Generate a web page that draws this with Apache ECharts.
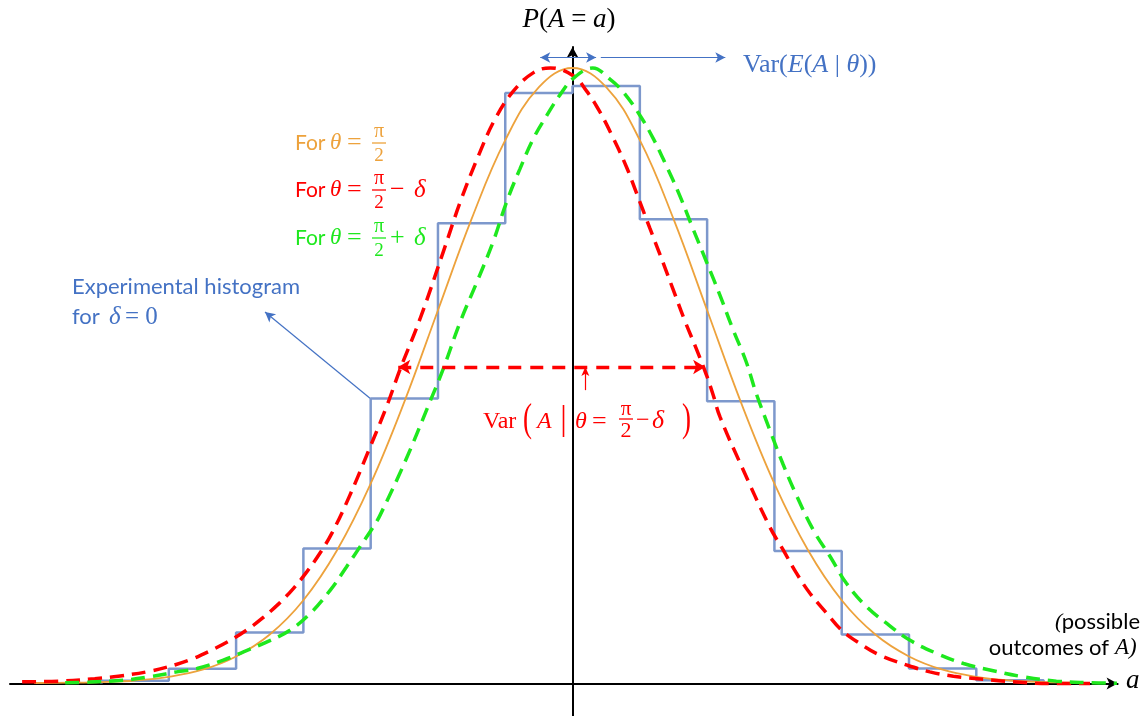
<!DOCTYPE html>
<html>
<head>
<meta charset="utf-8">
<script src="https://cdn.jsdelivr.net/npm/echarts@6/dist/echarts.min.js"></script>
<style>
  html, body { margin: 0; padding: 0; background: #fff; }
  #chart { width: 1142px; height: 716px; }
</style>
</head>
<body>
<div id="chart"></div>
<script>
// x: outcome a in bin units, y: probability in %
var binEdges = [-7, -6, -5, -4, -3, -2, -1, 0, 1, 2, 3, 4, 5, 6, 7];
var binHeights = [0.09, 0.48, 1.66, 4.38, 9.24, 14.92, 19.14, 19.37, 15.05, 9.15, 4.30, 1.59, 0.49, 0.11];

// theta = pi/2
var orangeX = [-8, -7.5, -7, -6.5, -6, -5.5, -5, -4.5, -4, -3.5, -3, -2.5, -2, -1.5, -1, -0.5,
  0, 0.5, 1, 1.5, 2, 2.5, 3, 3.5, 4, 4.5, 5, 5.5, 6, 6.5, 7, 7.5];
var orangeY = [0.02, 0.03, 0.05, 0.10, 0.22, 0.45, 0.88, 1.59, 2.70, 4.32, 6.48, 9.13, 12.10, 15.06, 17.61, 19.33,
  19.95, 19.33, 17.61, 15.06, 12.10, 9.13, 6.48, 4.32, 2.70, 1.59, 0.88, 0.45, 0.22, 0.10, 0.05, 0.03];

// theta = pi/2 - delta
var redX = [-8.18, -7.62, -7.10, -6.75, -6.26, -5.89, -5.65, -5.37, -5.12, -4.84, -4.61, -4.36, -4.15, -3.95,
  -3.75, -3.57, -3.31, -3.04, -2.76, -2.56, -2.27, -1.92, -1.67, -1.40, -1.15, -0.88, -0.58, -0.33,
  0.01, 0.21, 0.40, 0.60, 0.80, 0.95, 1.15, 1.30, 1.49, 1.67, 1.84, 1.99, 2.09, 2.19, 2.51, 2.93,
  3.13, 3.33, 3.53, 3.78, 4.00, 4.27, 4.57, 4.97, 5.31, 5.66, 6.10, 6.55, 7.14, 7.69];
var redY = [0.06, 0.08, 0.16, 0.24, 0.41, 0.62, 0.80, 1.08, 1.36, 1.74, 2.12, 2.60, 3.08, 3.62,
  4.24, 4.90, 6.10, 7.50, 9.00, 10.20, 11.80, 14.00, 15.60, 17.10, 18.30, 19.20, 19.80, 19.95,
  19.70, 19.20, 18.55, 17.70, 16.75, 15.90, 14.75, 13.90, 12.80, 11.75, 10.85, 10.00, 9.35, 8.65, 7.05, 5.08,
  4.33, 3.57, 2.92, 2.27, 1.73, 1.30, 0.92, 0.60, 0.38, 0.24, 0.14, 0.06, 0.00, 0.00];

// theta = pi/2 + delta
var greenX = [-7.54, -7.17, -6.68, -6.28, -5.88, -5.58, -5.19, -4.89, -4.54, -4.20, -3.90, -3.60, -3.36,
  -3.16, -2.96, -2.86, -2.49, -2.12, -1.92, -1.67, -1.42, -1.18, -0.98, -0.78, -0.58, -0.38, -0.19,
  0.01, 0.30, 0.55, 0.75, 1.00, 1.20, 1.39, 1.59, 1.79, 1.99, 2.19, 2.38, 2.58, 2.73, 2.93, 3.13,
  3.33, 3.58, 3.83, 4.07, 4.37, 4.67, 5.01, 5.41, 5.81, 6.20, 6.70, 7.19, 7.69, 8.09];
var greenY = [0.03, 0.05, 0.11, 0.22, 0.38, 0.49, 0.76, 1.03, 1.35, 1.73, 2.27, 3.03, 3.78,
  4.43, 5.08, 5.46, 7.19, 9.13, 10.21, 11.72, 13.02, 14.32, 15.61, 16.69, 17.67, 18.42, 19.07,
  19.61, 19.95, 19.60, 19.18, 18.42, 17.66, 16.80, 15.83, 14.74, 13.67, 12.59, 11.50, 10.43, 9.40, 8.23, 7.10,
  6.09, 4.97, 4.11, 3.25, 2.49, 1.95, 1.41, 0.98, 0.65, 0.44, 0.22, 0.08, 0.03, 0.01];

// annotation arrows (data coords)
var varWidthArrow = [[-2.59, 10.26], [1.97, 10.26]];
var varMarkArrow = [[0.19, 9.51], [0.19, 10.26]];
var meanShiftArrow = [[-0.48, 20.29], [0.35, 20.29]];
var meanVarArrow = [[0.42, 20.29], [2.27, 20.29]];
var histPointer = [[-3.01, 9.25], [-4.57, 12.04]];

var ORANGE = '#eda23c', RED = '#ff0000', GREEN = '#1ee81e', BLUE = '#4472c4', HIST = '#7d98cc';
var SANS = 'Lato, "Noto Sans", sans-serif';
var MATH = '"Liberation Serif", serif';

function zip(xs, ys) {
  return xs.map(function (x, i) { return [x, ys[i]]; });
}

// step outline of the histogram
var histData = [[binEdges[0], 0]];
binHeights.forEach(function (h, i) { histData.push([binEdges[i], h]); });
histData.push([binEdges[binEdges.length - 1], 0]);

function txt(x, y, s, font, color, align) {
  return {
    type: 'text', x: x, y: y, silent: true,
    style: { text: s, font: font, fill: color || '#000', align: align || 'left', verticalAlign: 'middle' }
  };
}
function tallParen(x, y, s, color) {
  var t = txt(x, y, s, '27px ' + MATH, color);
  t.scaleY = 1.5;
  return t;
}
function hline(x1, x2, y, color, w) {
  return { type: 'line', silent: true, shape: { x1: x1, y1: y, x2: x2, y2: y }, style: { stroke: color, lineWidth: w || 1.3 } };
}
function frac(cx, y, color) {
  return [
    txt(cx, y - 11, 'π', '20px ' + MATH, color, 'center'),
    hline(cx - 7, cx + 7, y, color, 1.3),
    txt(cx, y + 13, '2', '19px ' + MATH, color, 'center')
  ];
}
function forLabel(y, color, tail) {
  var els = [
    txt(295, y, 'For', '21px ' + SANS, color),
    txt(330, y, 'θ', 'italic 23px ' + MATH, color),
    txt(347, y, '=', '26px ' + MATH, color)
  ].concat(frac(379, y, color));
  if (tail) {
    els.push(txt(390, y, tail, '26px ' + MATH, color));
    els.push(txt(414, y, 'δ', 'italic 25px ' + MATH, color));
  }
  return els;
}

var graphics = [
  {
    type: 'text', x: 569, y: 20, silent: true,
    style: {
      text: '{i|P}({i|A} = {i|a})',
      font: '27px ' + MATH, fill: '#000', align: 'center', verticalAlign: 'middle',
      rich: { i: { font: 'italic 27px ' + MATH } }
    }
  },
  {
    type: 'text', x: 743, y: 65, silent: true,
    style: {
      text: 'Var({i|E}({i|A} | {i|θ}))',
      font: '26px ' + MATH, fill: BLUE, align: 'left', verticalAlign: 'middle',
      rich: { i: { font: 'italic 26px ' + MATH, fill: BLUE } }
    }
  },
  txt(72, 287, 'Experimental histogram', '22px ' + SANS, BLUE),
  txt(72, 317, 'for', '22px ' + SANS, BLUE),
  txt(109, 317, 'δ', 'italic 25px ' + MATH, BLUE),
  txt(125, 317, '= 0', '25px ' + MATH, BLUE),
  // Var(A | theta = pi/2 - delta)
  txt(483, 422, 'Var', '24px ' + MATH, RED),
  tallParen(523, 420, '(', RED),
  txt(537, 422, 'A', 'italic 24px ' + MATH, RED),
  { type: 'line', silent: true, shape: { x1: 563.5, y1: 405, x2: 563.5, y2: 437 }, style: { stroke: RED, lineWidth: 1.6 } },
  txt(575, 422, 'θ', 'italic 24px ' + MATH, RED),
  txt(592, 422, '=', '26px ' + MATH, RED),
  txt(626, 409, 'π', '21px ' + MATH, RED, 'center'),
  hline(619, 633, 419, RED, 1.3),
  txt(626, 431, '2', '22px ' + MATH, RED, 'center'),
  txt(636, 421, '−', '24px ' + MATH, RED),
  txt(652, 421, 'δ', 'italic 26px ' + MATH, RED),
  tallParen(682, 420, ')', RED),
  // axis notes
  txt(1055, 622, '(', 'italic 22px ' + MATH, '#000'),
  txt(1140, 622, 'possible', '22px ' + SANS, '#000', 'right'),
  txt(1109, 648, 'outcomes of', '22px ' + SANS, '#000', 'right'),
  txt(1115, 648, 'A)', 'italic 23px ' + MATH, '#000'),
  txt(1126, 681, 'a', 'italic 27px ' + MATH, '#000')
]
  .concat(forLabel(143, ORANGE))
  .concat(forLabel(190, RED, '−'))
  .concat(forLabel(238, GREEN, '+'));

function arrowPair(pts, color, width, type, both, size) {
  return [
    { coord: pts[0], symbol: both ? 'arrow' : 'none', symbolSize: size,
      lineStyle: { color: color, width: width, type: type } },
    { coord: pts[1], symbol: 'arrow', symbolSize: size }
  ];
}

var chart = echarts.init(document.getElementById('chart'), null, { renderer: 'canvas' });
chart.setOption({
  animation: false,
  backgroundColor: '#fff',
  grid: { left: 10, right: 24.4, top: 47, bottom: 0 },
  xAxis: {
    type: 'value', min: -8.36, max: 8.1,
    axisLine: { onZero: true, symbol: ['none', 'arrow'], symbolSize: [9, 11], lineStyle: { color: '#000', width: 2 } },
    axisTick: { show: false }, axisLabel: { show: false }, splitLine: { show: false }
  },
  yAxis: {
    type: 'value', min: -1.05, max: 20.63,
    axisLine: { onZero: true, symbol: ['none', 'arrow'], symbolSize: [9, 11], lineStyle: { color: '#000', width: 2 } },
    axisTick: { show: false }, axisLabel: { show: false }, splitLine: { show: false }
  },
  series: [
    {
      name: 'histogram', type: 'line', step: 'end', data: histData,
      symbol: 'none', lineStyle: { color: HIST, width: 2.5 }, z: 2
    },
    {
      name: 'theta = pi/2', type: 'line', smooth: 0.4, data: zip(orangeX, orangeY),
      symbol: 'none', lineStyle: { color: ORANGE, width: 1.8 }, z: 3
    },
    {
      name: 'theta = pi/2 - delta', type: 'line', smooth: 0.4, data: zip(redX, redY),
      symbol: 'none', lineStyle: { color: RED, width: 3.5, type: [14, 8] }, z: 4
    },
    {
      name: 'theta = pi/2 + delta', type: 'line', smooth: 0.4, data: zip(greenX, greenY),
      symbol: 'none', lineStyle: { color: GREEN, width: 3.5, type: [14, 8] }, z: 4
    },
    {
      name: 'notes', type: 'line', data: [], symbol: 'none', z: 5,
      markLine: {
        silent: true, animation: false, label: { show: false },
        emphasis: { disabled: true },
        data: [
          arrowPair(varWidthArrow, RED, 3.3, [13, 9], true, [11, 12]),
          arrowPair(varMarkArrow, RED, 1.2, 'solid', false, [6, 9]),
          arrowPair(meanShiftArrow, BLUE, 1.2, 'solid', true, [8, 10]),
          arrowPair(meanVarArrow, BLUE, 1.2, 'solid', false, [8, 10]),
          arrowPair(histPointer, BLUE, 1.2, 'solid', false, [8, 10])
        ]
      }
    }
  ],
  graphic: graphics
});
</script>
</body>
</html>
